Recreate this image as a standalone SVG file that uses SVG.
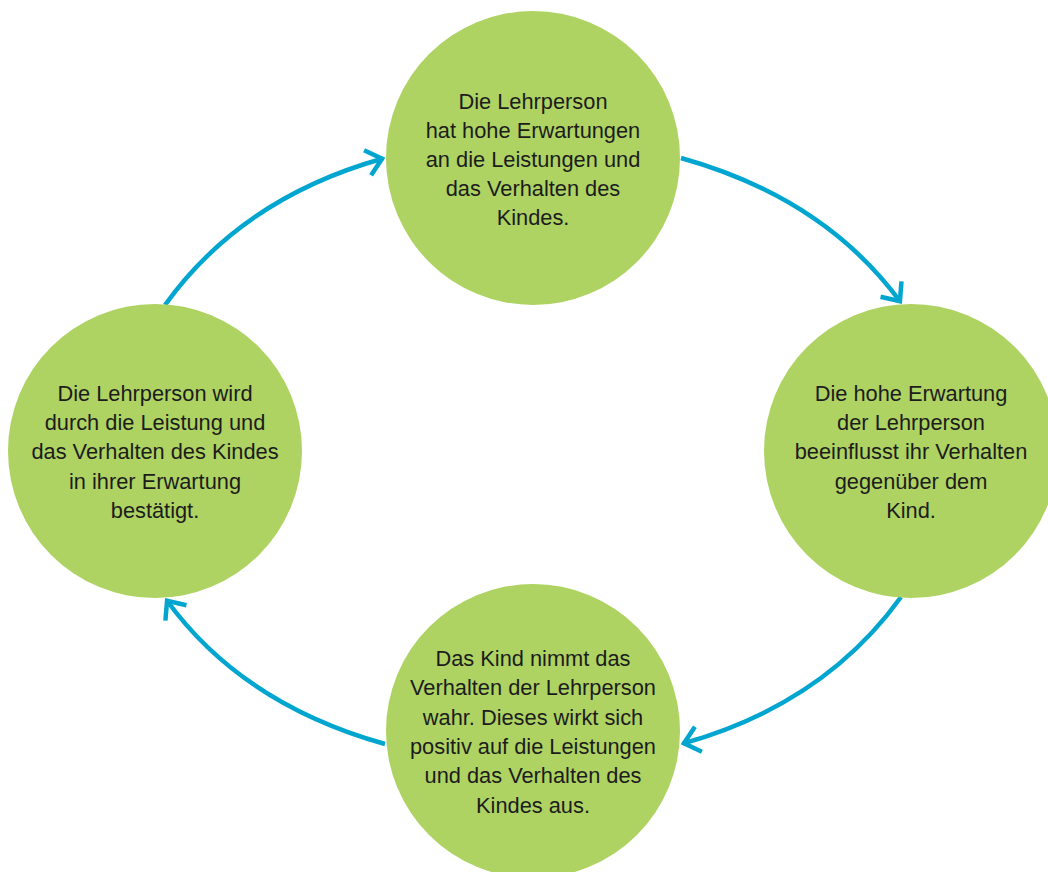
<svg xmlns="http://www.w3.org/2000/svg" width="1048" height="872" viewBox="0 0 1048 872">
  <style>
    .node circle { fill: #aed362; }
    .node text { font-family: "Liberation Sans", Arial, sans-serif; font-size: 21.8px; fill: #1c1c1c; text-anchor: middle; }
    .conn path { fill: none; stroke: #00a6cf; stroke-width: 4.5; marker-end: url(#chev); }
  </style>
  <defs>
    <marker id="chev" markerUnits="userSpaceOnUse" markerWidth="40" markerHeight="40" refX="1" refY="0" orient="auto" overflow="visible">
      <path d="M-15,-13 L0,0 L-15,13" fill="none" stroke="#00a6cf" stroke-width="4.5" stroke-linejoin="miter"/>
    </marker>
  </defs>
  <rect width="1048" height="872" fill="#ffffff"/>

  <g id="connectors" class="conn">
    <path d="M165,305 Q242,198 383,158.5"/>
    <path d="M681,158 Q824,198 900.5,302"/>
    <path d="M901,597 Q824,704 683,743.5"/>
    <path d="M385,744 Q242,704 166.5,600"/>
  </g>

  <g id="node-top" class="node">
    <circle cx="533" cy="158" r="147"/>
    <text x="533" y="108.5">Die Lehrperson</text>
    <text x="533" y="137.5">hat hohe Erwartungen</text>
    <text x="533" y="166.5">an die Leistungen und</text>
    <text x="533" y="195.5">das Verhalten des</text>
    <text x="533" y="224.5">Kindes.</text>
  </g>

  <g id="node-right" class="node">
    <circle cx="911" cy="451" r="147"/>
    <text x="911" y="400.5">Die hohe Erwartung</text>
    <text x="911" y="429.5">der Lehrperson</text>
    <text x="911" y="459">beeinflusst ihr Verhalten</text>
    <text x="911" y="488.5">gegenüber dem</text>
    <text x="911" y="518">Kind.</text>
  </g>

  <g id="node-bottom" class="node">
    <circle cx="533" cy="731" r="147"/>
    <text x="533" y="666">Das Kind nimmt das</text>
    <text x="533" y="695.3">Verhalten der Lehrperson</text>
    <text x="533" y="724.6">wahr. Dieses wirkt sich</text>
    <text x="533" y="754">positiv auf die Leistungen</text>
    <text x="533" y="783.3">und das Verhalten des</text>
    <text x="533" y="812.5">Kindes aus.</text>
  </g>

  <g id="node-left" class="node">
    <circle cx="155" cy="451" r="147"/>
    <text x="155" y="400.5">Die Lehrperson wird</text>
    <text x="155" y="429.5">durch die Leistung und</text>
    <text x="155" y="459">das Verhalten des Kindes</text>
    <text x="155" y="488.5">in ihrer Erwartung</text>
    <text x="155" y="518">bestätigt.</text>
  </g>
</svg>
